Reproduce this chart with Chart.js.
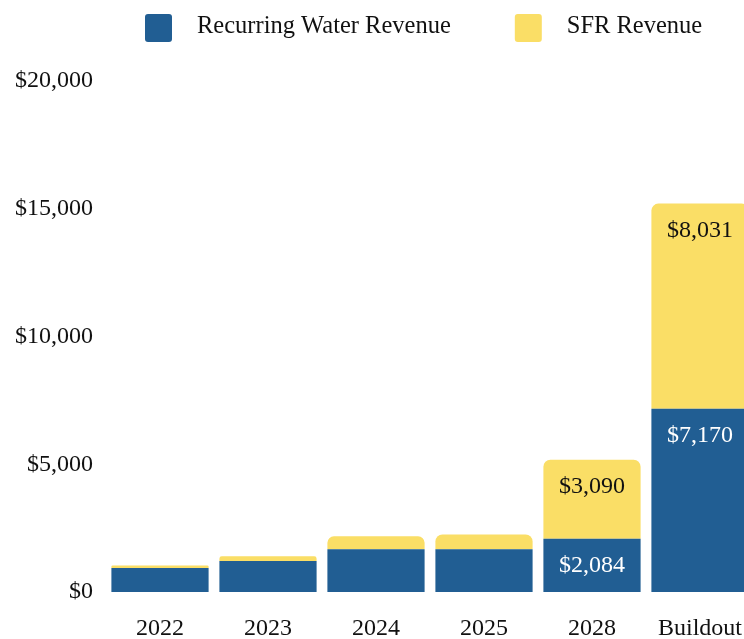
<!DOCTYPE html>
<html>
<head>
<meta charset="utf-8">
<script src="https://cdn.jsdelivr.net/npm/chart.js@4"></script>
<style>
  html, body { margin: 0; padding: 0; background: #fff; overflow: hidden; width: 744px; height: 639px; }
  #wrap { width: 754px; height: 642px; }
</style>
</head>
<body>
<div id="wrap"><canvas id="c" width="754" height="642"></canvas></div>
<script>
// ---- data ----
const categories = ['2022', '2023', '2024', '2025', '2028', 'Buildout'];
const recurringWater = [940, 1210, 1670, 1670, 2084, 7170];
const sfrRevenue = [100, 185, 510, 585, 3090, 8031];
const seriesNames = ['Recurring Water Revenue', 'SFR Revenue'];
const labeledCategories = ['2028', 'Buildout'];
const yMin = 0, yMax = 20000, yStep = 5000;

// ---- styles ----
const BLUE = '#215E93';
const YELLOW = '#FADE66';
const TEXT = '#111111';
const FONT = '"Liberation Serif", "Times New Roman", serif';
const labelColors = ['#ffffff', TEXT];

const fmt = v => '$' + Number(v).toLocaleString('en-US');

function roundRectPath(ctx, x, y, w, h, r) {
  ctx.beginPath();
  ctx.moveTo(x + r, y);
  ctx.lineTo(x + w - r, y); ctx.quadraticCurveTo(x + w, y, x + w, y + r);
  ctx.lineTo(x + w, y + h - r); ctx.quadraticCurveTo(x + w, y + h, x + w - r, y + h);
  ctx.lineTo(x + r, y + h); ctx.quadraticCurveTo(x, y + h, x, y + h - r);
  ctx.lineTo(x, y + r); ctx.quadraticCurveTo(x, y, x + r, y);
  ctx.closePath();
}

// Legend drawn in the band above the plot (reserved through layout.padding.top)
const legendStyle = { startX: 145, top: 14, boxW: 27, boxH: 28, radius: 3, textGap: 25, itemGap: 64, fontSize: 24.5 };
const topLegend = {
  id: 'topLegend',
  afterDraw(chart) {
    const ctx = chart.ctx;
    const s = legendStyle;
    let x = s.startX;
    ctx.save();
    ctx.font = s.fontSize + 'px ' + FONT;
    ctx.textBaseline = 'middle';
    ctx.textAlign = 'left';
    chart.data.datasets.forEach(ds => {
      ctx.fillStyle = ds.backgroundColor;
      roundRectPath(ctx, x, s.top, s.boxW, s.boxH, s.radius);
      ctx.fill();
      x += s.boxW + s.textGap;
      ctx.fillStyle = TEXT;
      ctx.fillText(ds.label, x, s.top + s.boxH / 2 - 1);
      x += ctx.measureText(ds.label).width + s.itemGap;
    });
    ctx.restore();
  }
};

const segmentLabels = {
  id: 'segmentLabels',
  afterDatasetsDraw(chart) {
    const ctx = chart.ctx;
    chart.data.datasets.forEach((ds, di) => {
      const meta = chart.getDatasetMeta(di);
      if (meta.hidden) return;
      meta.data.forEach((bar, i) => {
        if (!labeledCategories.includes(chart.data.labels[i])) return;
        ctx.save();
        ctx.font = '24px ' + FONT;
        ctx.fillStyle = labelColors[di];
        ctx.textAlign = 'center';
        ctx.textBaseline = 'middle';
        ctx.fillText(fmt(ds.data[i]), bar.x, bar.y + 27);
        ctx.restore();
      });
    });
  }
};

new Chart(document.getElementById('c'), {
  type: 'bar',
  data: {
    labels: categories,
    datasets: [
      { label: seriesNames[0], data: recurringWater, backgroundColor: BLUE, borderWidth: 0, borderRadius: 0 },
      { label: seriesNames[1], data: sfrRevenue, backgroundColor: YELLOW, borderWidth: 0,
        borderRadius: { topLeft: 7, topRight: 7, bottomLeft: 0, bottomRight: 0 }, borderSkipped: 'start' }
    ]
  },
  options: {
    responsive: false,
    animation: false,
    layout: { padding: { left: 12, right: 0, top: 81, bottom: 0 } },
    datasets: { bar: { categoryPercentage: 1.0, barPercentage: 0.9 } },
    plugins: {
      tooltip: { enabled: false },
      legend: { display: false }
    },
    scales: {
      x: {
        stacked: true,
        grid: { display: false, drawTicks: false },
        border: { display: false },
        ticks: { color: TEXT, font: { family: FONT, size: 24 }, padding: 22, maxRotation: 0 },
        afterFit(scale) { scale.height = 50; scale.paddingLeft = 0; scale.paddingRight = 0; }
      },
      y: {
        stacked: true,
        min: yMin, max: yMax,
        grid: { display: false, drawTicks: false },
        border: { display: false },
        ticks: { stepSize: yStep, color: TEXT, font: { family: FONT, size: 24 }, padding: 13, callback: v => fmt(v) },
        afterFit(scale) { scale.width = 94; }
      }
    }
  },
  plugins: [segmentLabels, topLegend]
});
</script>
</body>
</html>
